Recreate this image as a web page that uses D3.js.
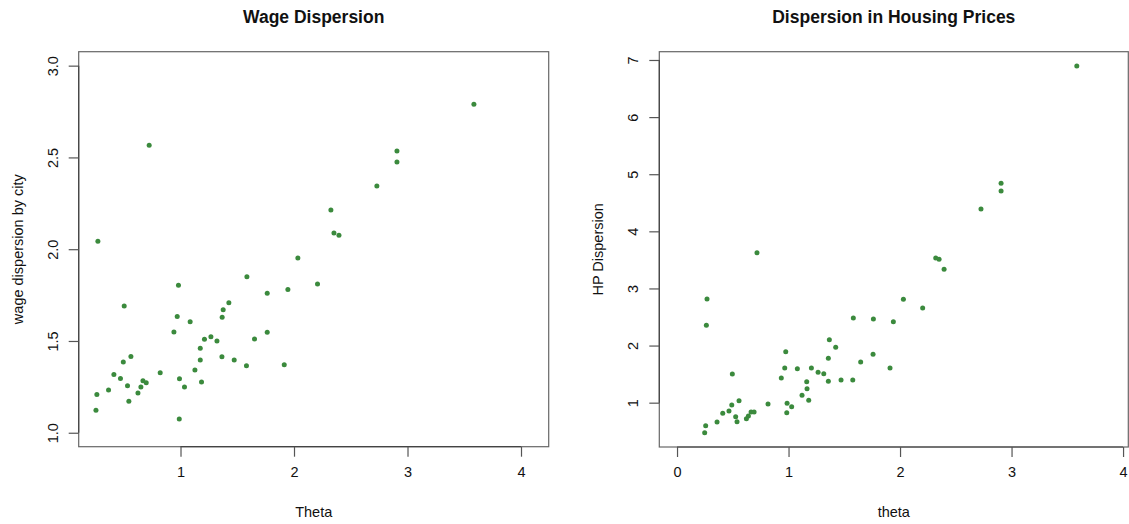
<!DOCTYPE html>
<html>
<head>
<meta charset="utf-8">
<script src="https://cdn.jsdelivr.net/npm/d3@7"></script>
<style>
  html, body { margin: 0; padding: 0; background: #fff; }
  svg text { font-family: "Liberation Sans", Arial, Helvetica, sans-serif; fill: #111; }
</style>
</head>
<body>
<svg id="chart" width="1129" height="524"></svg>
<script>
// ---- Data: Wage Dispersion panel ----
const wageTheta = [0.724,0.272,2.034,3.585,2.907,2.907,2.730,2.325,2.352,2.396,1.946,2.207,1.914,0.982,1.585,0.504,0.971,1.085,1.426,1.376,1.367,1.764,0.942,1.211,1.268,1.321,1.174,1.764,1.652,1.174,1.365,1.473,1.581,0.563,0.496,0.413,0.471,0.821,1.127,0.991,0.669,0.698,0.533,0.651,1.035,1.185,0.366,0.625,0.263,0.545,0.255,0.989];
const wageDisp  = [2.566,2.043,1.952,2.790,2.535,2.475,2.344,2.214,2.088,2.076,1.781,1.810,1.371,1.803,1.850,1.690,1.634,1.605,1.708,1.670,1.629,1.760,1.549,1.509,1.523,1.500,1.460,1.547,1.511,1.396,1.414,1.396,1.365,1.416,1.385,1.318,1.296,1.327,1.342,1.294,1.283,1.272,1.256,1.249,1.249,1.276,1.233,1.216,1.209,1.171,1.122,1.075];

// ---- Data: Housing price dispersion panel ----
const hpTheta = [3.585,2.906,2.906,2.726,2.320,2.350,2.395,2.030,2.203,1.581,1.761,1.940,1.758,1.647,1.910,1.576,1.471,0.717,0.269,0.263,1.366,1.423,0.975,1.357,0.966,1.079,1.205,1.265,1.316,0.935,0.496,1.163,1.357,1.166,1.121,1.181,0.987,1.028,0.816,0.984,0.556,0.491,0.466,0.410,0.359,0.526,0.538,0.622,0.640,0.664,0.691,0.257,0.248];
const hpDisp  = [6.895,4.841,4.706,4.391,3.533,3.510,3.335,2.810,2.658,2.483,2.465,2.418,1.847,1.713,1.608,1.397,1.397,3.626,2.815,2.355,2.103,1.970,1.893,1.777,1.608,1.596,1.608,1.532,1.508,1.432,1.502,1.368,1.375,1.245,1.130,1.042,0.989,0.930,0.977,0.825,1.035,0.960,0.855,0.814,0.662,0.755,0.667,0.720,0.767,0.837,0.837,0.597,0.475];

// ---- Tick labels ----
const wageXTicks = [1, 2, 3, 4];
const wageYTicks = [1.0, 1.5, 2.0, 2.5, 3.0];
const hpXTicks = [0, 1, 2, 3, 4];
const hpYTicks = [1, 2, 3, 4, 5, 6, 7];

// ---- Axis limits (as in the plotted region) ----
const wageXLim = [0.103, 4.244];
const wageYLim = [0.924, 3.076];
const hpXLim = [-0.159, 4.047];
const hpYLim = [0.224, 7.145];

const svg = d3.select("#chart");
const pointColor = "#3b8a3d";

function panel(opts) {
  const x = d3.scaleLinear().domain(opts.xLim).range([opts.left, opts.right]);
  const y = d3.scaleLinear().domain(opts.yLim).range([opts.bottom, opts.top]);
  const g = svg.append("g");

  // points
  g.selectAll("circle.pt")
    .data(opts.xs.map((v, i) => [v, opts.ys[i]]))
    .join("circle")
    .attr("class", "pt")
    .attr("cx", d => x(d[0]))
    .attr("cy", d => y(d[1]))
    .attr("r", 2.5)
    .attr("fill", pointColor);

  // box
  g.append("rect")
    .attr("x", opts.left).attr("y", opts.top)
    .attr("width", opts.right - opts.left)
    .attr("height", opts.bottom - opts.top)
    .attr("fill", "none")
    .attr("stroke", "#666")
    .attr("stroke-width", 1.2);

  // x axis
  const xAxis = d3.axisBottom(x).tickValues(opts.xTicks).tickSize(10).tickPadding(10)
    .tickFormat(d3.format("d"));
  const gx = g.append("g").attr("transform", `translate(0,${opts.bottom})`).call(xAxis);
  gx.select(".domain").attr("d", `M${x(opts.xTicks[0])},0H${x(opts.xTicks[opts.xTicks.length-1])}`)
    .attr("stroke", "#444").attr("stroke-width", 1.2);
  gx.selectAll(".tick line").attr("stroke", "#555").attr("stroke-width", 1.2);
  gx.selectAll(".tick text").attr("font-size", 14.5).attr("font-family", null).style("fill", "#111");

  // y axis
  const yAxis = d3.axisLeft(y).tickValues(opts.yTicks).tickSize(10).tickPadding(0)
    .tickFormat(opts.yFmt);
  const gy = g.append("g").attr("transform", `translate(${opts.left},0)`).call(yAxis);
  gy.select(".domain").attr("d", `M0,${y(opts.yTicks[0])}V${y(opts.yTicks[opts.yTicks.length-1])}`)
    .attr("stroke", "#444").attr("stroke-width", 1.2);
  gy.selectAll(".tick line").attr("stroke", "#555").attr("stroke-width", 1.2);
  gy.selectAll(".tick text")
    .attr("x", null).attr("dy", null)
    .attr("font-size", 14.5).attr("font-family", null)
    .attr("text-anchor", "middle")
    .attr("transform", "translate(-26,0) rotate(-90)")
    .attr("dy", "0.35em")
    .style("fill", "#111");

  const cx = (opts.left + opts.right) / 2;
  // title
  g.append("text")
    .attr("x", cx).attr("y", 23)
    .attr("text-anchor", "middle")
    .attr("font-weight", "bold")
    .attr("font-size", 17.5)
    .text(opts.title);
  // x label
  g.append("text")
    .attr("x", cx).attr("y", 517)
    .attr("text-anchor", "middle")
    .attr("font-size", 14.5)
    .text(opts.xLabel);
  // y label
  const cy = (opts.top + opts.bottom) / 2;
  g.append("text")
    .attr("transform", `translate(${opts.left - 61},${cy}) rotate(-90)`)
    .attr("text-anchor", "middle")
    .attr("dy", "0.35em")
    .attr("font-size", 14.5)
    .text(opts.yLabel);
}

panel({
  xs: wageTheta, ys: wageDisp,
  xLim: wageXLim, yLim: wageYLim,
  left: 78.7, right: 548.7, top: 51.7, bottom: 446.7,
  xTicks: wageXTicks, yTicks: wageYTicks, yFmt: d3.format(".1f"),
  title: "Wage Dispersion", xLabel: "Theta", yLabel: "wage dispersion by city"
});

panel({
  xs: hpTheta, ys: hpDisp,
  xLim: hpXLim, yLim: hpYLim,
  left: 659.3, right: 1128.3, top: 51.7, bottom: 447,
  xTicks: hpXTicks, yTicks: hpYTicks, yFmt: d3.format("d"),
  title: "Dispersion in Housing Prices", xLabel: "theta", yLabel: "HP Dispersion"
});
</script>
</body>
</html>
